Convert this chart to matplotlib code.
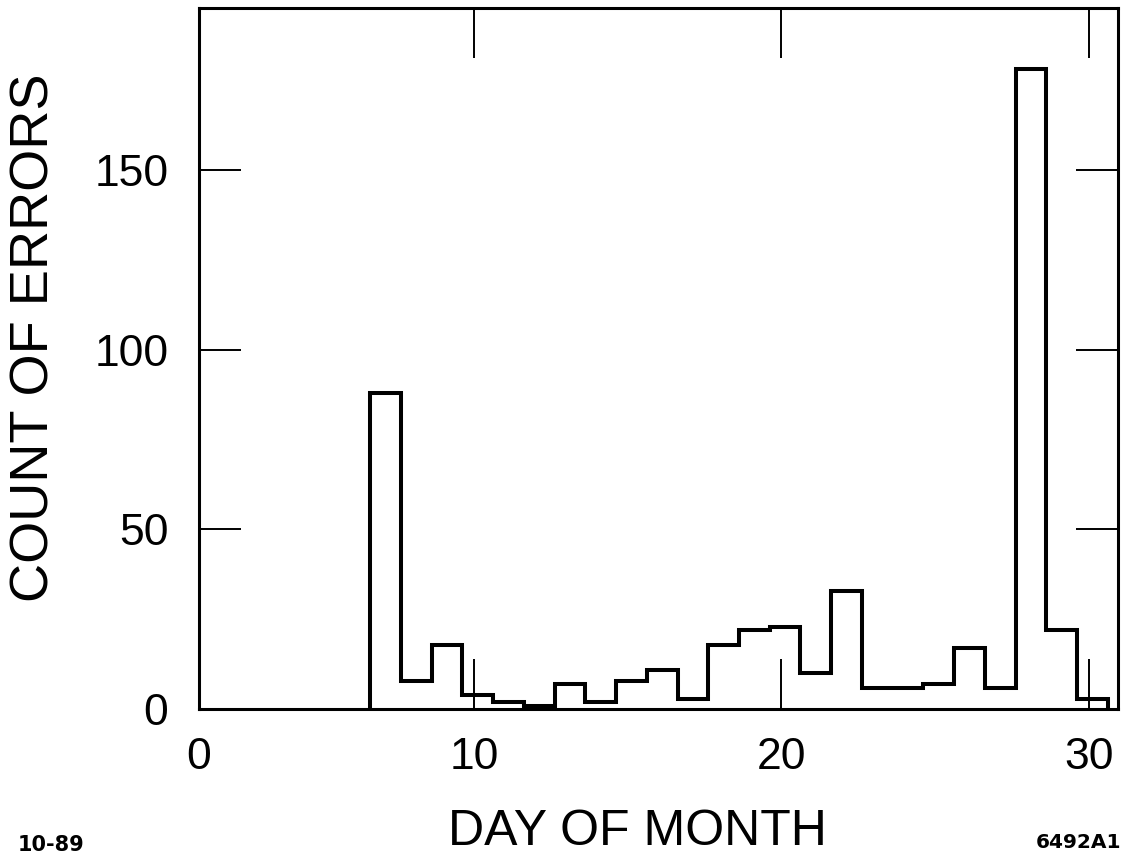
import matplotlib
matplotlib.use('Agg')
import matplotlib.pyplot as plt
import numpy as np


# errors counted per day of month
days = [7, 8, 9, 10, 11, 12, 13, 14, 15, 16, 17, 18,
        19, 20, 21, 22, 23, 24, 25, 26, 27, 28, 29, 30]
counts = [88, 8, 18, 4, 2, 1, 7, 2, 8, 11, 3, 18,
          22, 23, 10, 33, 6, 6, 7, 17, 6, 178, 22, 3]

xtick_values = [1.05, 10, 20, 30]
xtick_labels = ['0', '10', '20', '30']
ytick_values = [0, 50, 100, 150]

plt.rcParams['font.family'] = ['Liberation Sans', 'DejaVu Sans']

W, H = 1126, 855
fig = plt.figure(figsize=(W / 100, H / 100), dpi=100)
ax = fig.add_axes([199 / W, 1 - 709.3 / H, (1118 - 199) / W, (709.3 - 8) / H])

# bins in the original sit a bit right of the whole days
edges = np.append(np.array(days) - 0.38, days[-1] + 0.62)
ax.stairs(counts, edges, baseline=0, color='black', linewidth=2.9)

ax.set_xlim(1.05, 30.95)
ax.set_ylim(0, 195)
ax.set_xticks(xtick_values, xtick_labels)
ax.set_yticks(ytick_values)

ax.tick_params(axis='x', direction='in', length=36, width=1.4, top=True,
               pad=20, labelsize=32)
ax.tick_params(axis='y', direction='in', length=30, width=1.4, right=True,
               pad=22, labelsize=32)
for sp in ax.spines.values():
    sp.set_linewidth(2.2)

fig.text(637 / W, 1 - 845 / H, 'DAY OF MONTH', fontsize=36,
         ha='center', va='baseline')
fig.text(49 / W, 1 - 338 / H, 'COUNT OF ERRORS', fontsize=39, rotation=90,
         rotation_mode='anchor', ha='center', va='baseline')

fig.text(18 / W, 1 - 851 / H, '10-89', family='DejaVu Sans',
         weight='bold', fontsize=15, va='baseline')
fig.text(1036 / W, 1 - 848 / H, '6492A1', family='DejaVu Sans',
         weight='bold', fontsize=14.5, va='baseline')

fig.savefig('out.png', dpi=100)
